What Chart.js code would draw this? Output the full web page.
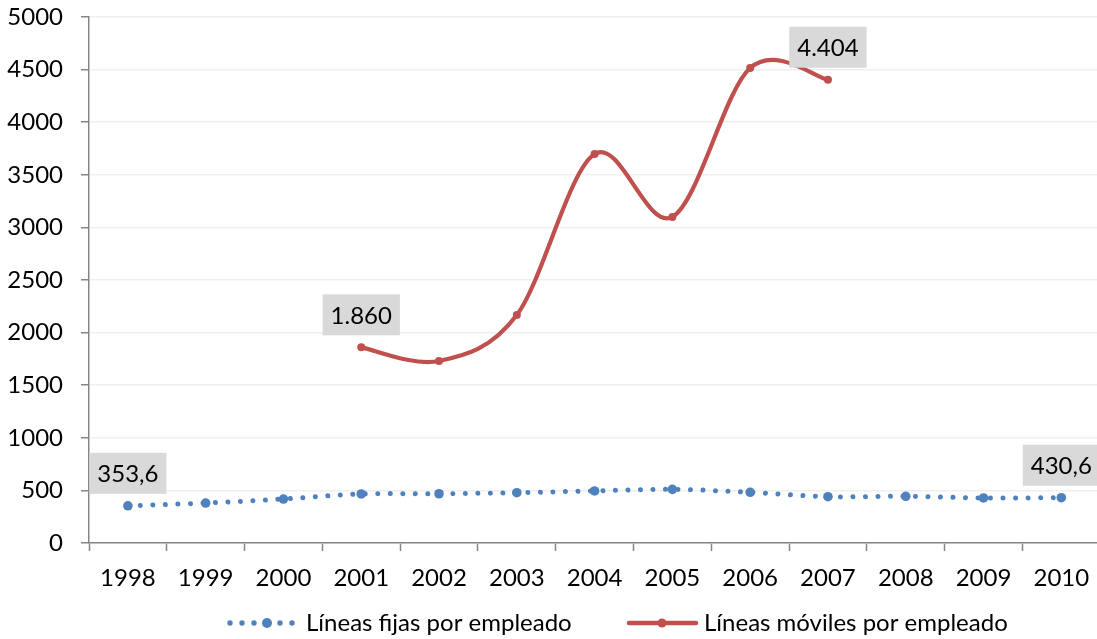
<!DOCTYPE html>
<html>
<head>
<meta charset="utf-8">
<script src="https://cdn.jsdelivr.net/npm/chart.js@4"></script>
<style>
html, body { margin: 0; padding: 0; background: #fff; overflow: hidden; }
</style>
</head>
<body>
<canvas id="grafico" width="1105" height="639"></canvas>
<script>
const anios = ['1998', '1999', '2000', '2001', '2002', '2003', '2004', '2005', '2006', '2007', '2008', '2009', '2010'];
const fijas = [353.6, 380, 418, 466, 468, 478, 495, 510, 482, 440, 444, 428, 430.6];
const moviles = [null, null, null, 1860, 1730, 2167, 3698, 3100, 4515, 4404, null, null, null];
const ticksY = [0, 500, 1000, 1500, 2000, 2500, 3000, 3500, 4000, 4500, 5000];

// puntos que llevan etiqueta de valor
const etiquetasFijas = [0, 12];
const etiquetasMoviles = [3, 9];

const AZUL = '#4F81BD';
const ROJO = '#C0504D';
const FUENTE = 'Lato, "Open Sans", sans-serif';
const TAM = 24;

// 1860 -> "1.860", 353.6 -> "353,6"
function Formato(v) {
  const partes = String(v).split('.');
  const entero = partes[0].replace(/\B(?=(\d{3})+(?!\d))/g, '.');
  return partes.length > 1 ? entero + ',' + partes[1] : entero;
}

// Suavizado tipo Catmull-Rom (1/6 de la diferencia entre vecinos)
const pluginSuavizado = {
  id: 'suavizado',
  beforeDatasetDraw(chart, args) {
    const meta = args.meta;
    const linea = meta.dataset;
    if (!linea) return;
    linea.updateControlPoints(chart.chartArea, meta.indexAxis || 'x');
    const pts = meta.data;
    for (let i = 0; i < pts.length; i++) {
      const p = pts[i];
      if (p.skip) continue;
      const a = (i > 0 && !pts[i - 1].skip) ? pts[i - 1] : p;
      const b = (i < pts.length - 1 && !pts[i + 1].skip) ? pts[i + 1] : p;
      const dx = (b.x - a.x) / 6;
      const dy = (b.y - a.y) / 6;
      p.cp1x = p.x - dx; p.cp1y = p.y - dy;
      p.cp2x = p.x + dx; p.cp2y = p.y + dy;
    }
  }
};

//Etiquetas con fondo gris
const pluginEtiquetas = {
  id: 'etiquetas',
  afterDatasetsDraw(chart) {
    const ctx = chart.ctx;
    const listas = [etiquetasFijas, etiquetasMoviles];
    ctx.save();
    ctx.font = TAM + 'px ' + FUENTE;
    ctx.textAlign = 'center';
    ctx.textBaseline = 'middle';
    listas.forEach((indices, d) => {
      const meta = chart.getDatasetMeta(d);
      indices.forEach(i => {
        const p = meta.data[i];
        const txt = Formato(chart.data.datasets[d].data[i]);
        const w = ctx.measureText(txt).width + 16;
        const h = 41;
        const y = p.y - 12 - h;
        ctx.fillStyle = '#D9D9D9';
        ctx.fillRect(p.x - w / 2, y, w, h);
        ctx.fillStyle = '#000';
        ctx.fillText(txt, p.x, y + h / 2 + 1);
      });
    });
    ctx.restore();
  }
};

//Leyenda inferior
const pluginLeyenda = {
  id: 'leyenda',
  afterDraw(chart) {
    const ctx = chart.ctx;
    const y = 623;
    ctx.save();
    // serie fija: línea punteada
    ctx.fillStyle = AZUL;
    [230, 242, 254, 280, 292].forEach(x => {
      ctx.beginPath(); ctx.arc(x, y, 2.7, 0, Math.PI * 2); ctx.fill();
    });
    ctx.beginPath(); ctx.arc(267, y, 5, 0, Math.PI * 2); ctx.fill();
    // serie móvil: línea continua
    ctx.strokeStyle = ROJO;
    ctx.lineWidth = 4.5;
    ctx.lineCap = 'round';
    ctx.beginPath(); ctx.moveTo(629, y); ctx.lineTo(696, y); ctx.stroke();
    ctx.fillStyle = ROJO;
    ctx.beginPath(); ctx.arc(662, y, 4.5, 0, Math.PI * 2); ctx.fill();

    ctx.fillStyle = '#000';
    ctx.font = TAM + 'px ' + FUENTE;
    ctx.textAlign = 'left';
    ctx.textBaseline = 'middle';
    ctx.fillText(chart.data.datasets[0].label, 306, y);
    ctx.fillText(chart.data.datasets[1].label, 704, y);
    ctx.restore();
  }
};

const config = {
  type: 'line',
  data: {
    labels: anios,
    datasets: [
      {
        label: 'Líneas fijas por empleado',
        data: fijas,
        borderColor: AZUL,
        backgroundColor: AZUL,
        borderWidth: 5,
        borderDash: [0.01, 12.5],
        borderCapStyle: 'round',
        pointRadius: 4.8,
        pointBorderWidth: 0,
        tension: 0.4
      },
      {
        label: 'Líneas móviles por empleado',
        data: moviles,
        borderColor: ROJO,
        backgroundColor: ROJO,
        borderWidth: 4.2,
        borderCapStyle: 'round',
        pointRadius: 4,
        pointBorderWidth: 0,
        tension: 0.4
      }
    ]
  },
  options: {
    responsive: false,
    animation: false,
    layout: { padding: { top: 17, right: 1, bottom: 41, left: 0 } },
    plugins: {
      legend: { display: false },
      tooltip: { enabled: false }
    },
    scales: {
      x: {
        offset: true,
        grid: {
          offset: true,
          drawOnChartArea: false,
          tickLength: 8,
          tickColor: '#868686',
          tickWidth: 1.5
        },
        border: { color: '#868686', width: 1.5 },
        ticks: {
          color: '#000',
          padding: 13,
          maxRotation: 0,
          autoSkip: false,
          font: { family: FUENTE, size: TAM }
        },
        afterFit(s) { s.height = 55; }
      },
      y: {
        min: 0,
        max: 5000,
        afterBuildTicks(s) { s.ticks = ticksY.map(v => ({ value: v })); },
        grid: {
          color: '#EFEFEF',
          lineWidth: 1.5,
          tickLength: 8,
          tickColor: '#868686',
          tickWidth: 1.5
        },
        border: { color: '#868686', width: 1.5 },
        ticks: {
          color: '#000',
          padding: 18,
          font: { family: FUENTE, size: TAM },
          callback: v => String(v)
        },
        afterFit(s) {
          s.width = 89;
          s.paddingTop = 0;
          s.paddingBottom = 0;
        }
      }
    }
  },
  plugins: [pluginSuavizado, pluginEtiquetas, pluginLeyenda]
};

new Chart(document.getElementById('grafico'), config);
</script>
</body>
</html>
